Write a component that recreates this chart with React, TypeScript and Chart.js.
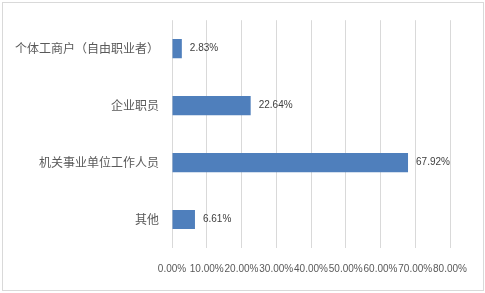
import React, { useEffect, useRef } from "react";
import { Chart, registerables } from "chart.js";

Chart.register(...registerables);

const categories = ["个体工商户（自由职业者）", "企业职员", "机关事业单位工作人员", "其他"];
const values = [2.83, 22.64, 67.92, 6.61];
const xMax = 80;
const xStep = 10;

const valueLabelPlugin = {
  id: "valueLabels",
  afterDatasetsDraw(chart: any) {
    const ctx = chart.ctx;
    const meta = chart.getDatasetMeta(0);
    ctx.save();
    ctx.font = '10px "Liberation Sans", Arial, sans-serif';
    ctx.fillStyle = "#404040";
    ctx.textAlign = "left";
    ctx.textBaseline = "middle";
    meta.data.forEach((el: any, i: number) => {
      const v = chart.data.datasets[0].data[i];
      ctx.fillText(v.toFixed(2) + "%", el.x + 8, el.y);
    });
    ctx.restore();
  },
};

export default function App() {
  const ref = useRef<HTMLCanvasElement>(null);
  useEffect(() => {
    const chart = new Chart(ref.current!, {
      type: "bar",
      data: {
        labels: categories,
        datasets: [
          {
            data: values,
            backgroundColor: "#4F7FBC",
            categoryPercentage: 1,
            barPercentage: 0.336,
          },
        ],
      },
      options: {
        indexAxis: "y",
        animation: false,
        responsive: false,
        maintainAspectRatio: false,
        layout: { padding: { top: 16, right: 35, bottom: 0, left: 0 } },
        plugins: { legend: { display: false }, tooltip: { enabled: false } },
        scales: {
          x: {
            min: 0,
            max: xMax,
            ticks: {
              stepSize: xStep,
              padding: 15,
              color: "#595959",
              font: { size: 10, family: '"Liberation Sans", Arial, sans-serif' },
              maxRotation: 0,
              autoSkip: false,
              callback: (v: any) => Number(v).toFixed(2) + "%",
            },
            grid: { color: "#d9d9d9", drawTicks: false, lineWidth: 1 },
            border: { display: false },
            afterFit: (s: any) => {
              s.height = 45;
            },
          },
          y: {
            ticks: {
              padding: 13,
              color: "#595959",
              font: { size: 12, family: '"Noto Sans CJK SC", sans-serif' },
            },
            grid: { display: false, drawTicks: false },
            border: { display: false },
            afterFit: (s: any) => {
              s.width = 172;
            },
          },
        },
      },
      plugins: [valueLabelPlugin],
    });
    return () => chart.destroy();
  }, []);
  return (
    <div style={{ position: "fixed", left: 0, top: 0, width: 485, height: 293, background: "#fff" }}>
      <div
        style={{
          position: "absolute",
          left: 2,
          top: 2,
          width: 480,
          height: 287,
          border: "1px solid #d9d9d9",
        }}
      />
      <canvas ref={ref} width={485} height={293} style={{ position: "absolute", left: 0, top: 0 }} />
    </div>
  );
}
